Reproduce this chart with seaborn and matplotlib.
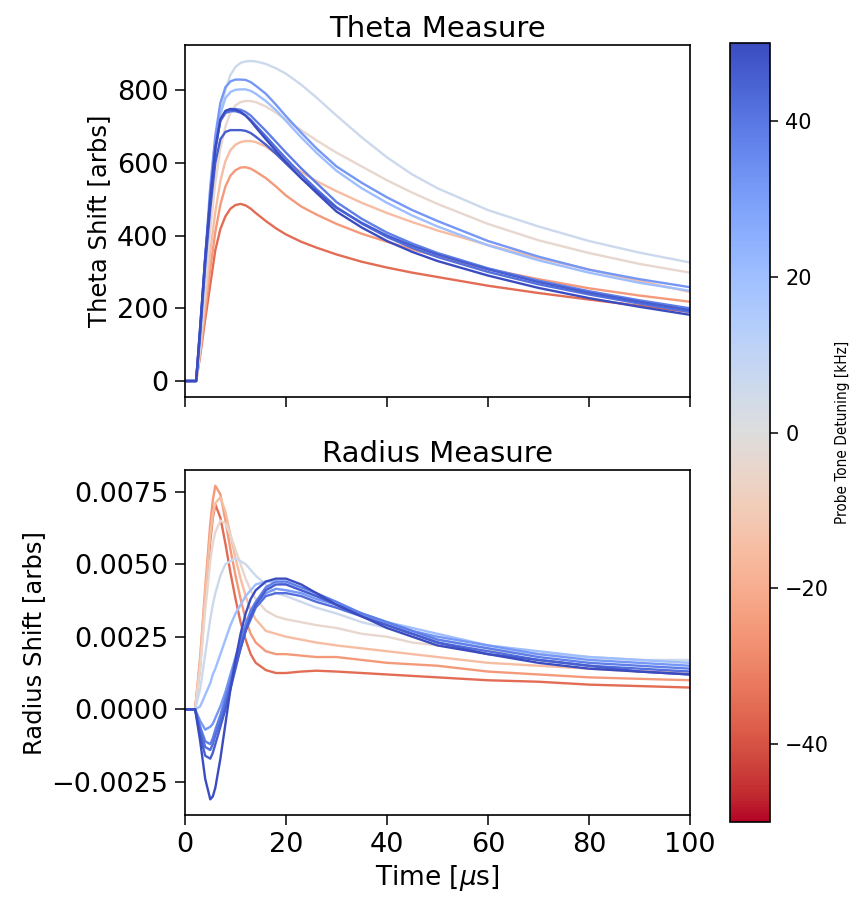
import numpy as np
import pandas as pd
import matplotlib
matplotlib.use("Agg")
import matplotlib.pyplot as plt
from matplotlib import font_manager
import seaborn as sns

# probe tone detunings [kHz], one curve each
detunings = [-35, -25, -15, -4, 6, 20, 32, 38, 42, 46, 50]

# time grid [us] for the theta panel
t_theta = [0, 2.2, 3, 4, 5, 6, 7, 8, 9, 10, 11, 12, 13, 14, 16, 18, 20, 23, 26, 30, 35, 40, 45, 50, 60, 70, 80, 90, 100]

theta_m35 = [0, 0, 70, 170, 265, 360, 418, 453, 474, 484, 487, 483, 474, 462, 440, 420, 403, 383, 367, 348, 328, 312, 298, 286, 262, 242, 224, 207, 190]
theta_m25 = [0, 0, 75, 190, 310, 410, 485, 535, 565, 580, 587, 588, 584, 576, 558, 535, 510, 480, 458, 432, 405, 383, 362, 343, 308, 280, 255, 235, 218]
theta_m15 = [0, 0, 85, 220, 355, 465, 550, 605, 635, 650, 657, 660, 660, 657, 645, 625, 603, 575, 550, 522, 490, 462, 437, 414, 374, 338, 307, 275, 245]
theta_m4 = [0, 0, 95, 255, 415, 545, 640, 700, 738, 758, 767, 770, 770, 767, 755, 738, 718, 690, 662, 628, 590, 552, 518, 487, 432, 387, 352, 322, 298]
theta_p6 = [0, 0, 100, 285, 470, 620, 730, 800, 842, 864, 875, 879, 880, 879, 872, 860, 845, 815, 780, 730, 670, 615, 568, 530, 470, 425, 385, 353, 326]
theta_p20 = [0, 0, 120, 320, 510, 650, 735, 778, 795, 801, 802, 802, 798, 790, 770, 745, 715, 670, 628, 578, 530, 490, 455, 425, 373, 332, 298, 270, 248]
theta_p32 = [0, 0, 130, 340, 535, 675, 765, 808, 824, 829, 829, 828, 822, 812, 790, 760, 728, 683, 640, 590, 545, 505, 470, 440, 385, 342, 306, 280, 258]
theta_p38 = [0, 0, 140, 335, 500, 640, 718, 742, 748, 748, 746, 740, 730, 716, 688, 658, 628, 585, 545, 492, 446, 408, 378, 352, 310, 276, 247, 222, 200]
theta_p42 = [0, 0, 145, 340, 505, 640, 715, 737, 742, 742, 738, 730, 718, 703, 673, 642, 612, 568, 528, 478, 433, 396, 366, 341, 300, 266, 238, 213, 190]
theta_p46 = [0, 0, 135, 320, 475, 600, 665, 685, 690, 690, 690, 688, 682, 672, 650, 625, 598, 558, 522, 476, 435, 400, 372, 348, 307, 272, 243, 218, 195]
theta_p50 = [0, 0, 150, 340, 500, 640, 720, 743, 748, 746, 740, 730, 715, 698, 665, 633, 602, 558, 518, 466, 422, 385, 355, 330, 290, 256, 228, 204, 182]

# time grid [us] for the radius panel
t_radius = [0, 2.0, 3, 4, 5, 5.5, 6, 7, 8, 9, 10, 11, 12, 13, 14, 16, 18, 20, 23, 26, 30, 35, 40, 45, 50, 60, 70, 80, 90, 100]

radius_m35 = [0, 0, 0.0015, 0.0038, 0.0058, 0.0066, 0.00705, 0.0066, 0.0057, 0.0047, 0.0038, 0.0030, 0.0024, 0.0019, 0.0016,
              0.00135, 0.00125, 0.00125, 0.0013, 0.00133, 0.0013, 0.00125, 0.0012, 0.00115, 0.0011, 0.0010, 0.00095, 0.00085, 0.0008, 0.00075]
radius_m25 = [0, 0, 0.0018, 0.0042, 0.0064, 0.0072, 0.0077, 0.0074, 0.0065, 0.0055, 0.0046, 0.0038, 0.0031, 0.0026, 0.0023,
              0.0020, 0.0019, 0.0019, 0.00185, 0.0018, 0.0018, 0.0017, 0.0016, 0.00155, 0.0015, 0.0013, 0.0012, 0.0011, 0.00105, 0.0010]
radius_m15 = [0, 0, 0.0017, 0.0040, 0.0060, 0.0067, 0.0071, 0.0073, 0.0068, 0.0060, 0.0052, 0.0045, 0.0039, 0.0034, 0.0031,
              0.0027, 0.0026, 0.0025, 0.0024, 0.0023, 0.0022, 0.0021, 0.0020, 0.0019, 0.0018, 0.0016, 0.0015, 0.0014, 0.0013, 0.0013]
radius_m4 = [0, 0, 0.0014, 0.0034, 0.0051, 0.0057, 0.0061, 0.0065, 0.0064, 0.0060, 0.0055, 0.0050, 0.0045, 0.0041, 0.0038,
             0.0034, 0.0032, 0.0031, 0.0030, 0.0029, 0.0028, 0.0026, 0.0025, 0.0023, 0.0022, 0.0020, 0.0019, 0.0018, 0.0017, 0.0016]
radius_p6 = [0, 0, 0.0007, 0.0019, 0.0031, 0.0036, 0.0040, 0.0046, 0.0050, 0.0051, 0.0052, 0.0051, 0.0050, 0.0048, 0.0046,
             0.0043, 0.0040, 0.0039, 0.0037, 0.0035, 0.0033, 0.0030, 0.0028, 0.0026, 0.0024, 0.0021, 0.0019, 0.0018, 0.0017, 0.0017]
radius_p20 = [0, 0, 0.0001, 0.0005, 0.0009, 0.0012, 0.0014, 0.0019, 0.0024, 0.0029, 0.0033, 0.0036, 0.0039, 0.0041, 0.0043,
              0.0044, 0.0044, 0.0043, 0.0041, 0.0039, 0.0036, 0.0033, 0.0030, 0.0028, 0.0026, 0.0022, 0.0020, 0.0018, 0.0017, 0.0016]
radius_p32 = [0, 0, -0.0004, -0.0007, -0.0006, -0.0005, -0.0003, 0.0001, 0.0006, 0.0012, 0.0018, 0.0024, 0.0029, 0.0033, 0.0036,
              0.0040, 0.00415, 0.0041, 0.0040, 0.0038, 0.0036, 0.0033, 0.0030, 0.0027, 0.0025, 0.0022, 0.0019, 0.0017, 0.0016, 0.0015]
radius_p38 = [0, 0, -0.0006, -0.0011, -0.0012, -0.0010, -0.0007, -0.0002, 0.0004, 0.0010, 0.0017, 0.0023, 0.0029, 0.0034, 0.0037,
              0.0042, 0.0044, 0.0044, 0.0042, 0.0040, 0.0037, 0.0033, 0.0030, 0.0027, 0.0024, 0.0021, 0.0018, 0.0016, 0.0015, 0.0014]
radius_p42 = [0, 0, -0.0007, -0.0013, -0.0014, -0.0012, -0.0009, -0.0004, 0.0002, 0.0008, 0.0015, 0.0021, 0.0027, 0.0031, 0.0035,
              0.0039, 0.0040, 0.0040, 0.0039, 0.0037, 0.0035, 0.0032, 0.0029, 0.0026, 0.0023, 0.0020, 0.0017, 0.0015, 0.0014, 0.0013]
radius_p46 = [0, 0, -0.0009, -0.0016, -0.0017, -0.0015, -0.0012, -0.0006, 0.0000, 0.0007, 0.0014, 0.0021, 0.0027, 0.0032, 0.0036,
              0.0041, 0.0043, 0.0043, 0.0041, 0.0039, 0.0036, 0.0032, 0.0029, 0.0026, 0.0023, 0.0019, 0.0017, 0.0015, 0.0013, 0.0012]
radius_p50 = [0, 0, -0.0011, -0.0024, -0.0031, -0.0030, -0.0027, -0.0017, -0.0005, 0.0007, 0.0017, 0.0026, 0.0033, 0.0038, 0.0041,
              0.0044, 0.0045, 0.0045, 0.0043, 0.0040, 0.0036, 0.0032, 0.0028, 0.0025, 0.0022, 0.0019, 0.0016, 0.0014, 0.0013, 0.0012]

theta_curves = [theta_m35, theta_m25, theta_m15, theta_m4, theta_p6, theta_p20,
                theta_p32, theta_p38, theta_p42, theta_p46, theta_p50]
radius_curves = [radius_m35, radius_m25, radius_m15, radius_m4, radius_p6, radius_p20,
                 radius_p32, radius_p38, radius_p42, radius_p46, radius_p50]


def long_frame(times, curves):
    rows = []
    for det, vals in zip(detunings, curves):
        for t, v in zip(times, vals):
            rows.append({'time': t, 'value': v, 'detuning': det})
    return pd.DataFrame(rows)


theta_df = long_frame(t_theta, theta_curves)
radius_df = long_frame(t_radius, radius_curves)

cmap = 'coolwarm_r'
norm = (-50, 50)

plt.rcParams['axes.linewidth'] = 1.2
plt.rcParams['xtick.major.size'] = 7
plt.rcParams['ytick.major.size'] = 7
plt.rcParams['xtick.major.width'] = 1.1
plt.rcParams['ytick.major.width'] = 1.1
plt.rcParams['xtick.major.pad'] = 5
plt.rcParams['ytick.major.pad'] = 5

fig = plt.figure(figsize=(8.59, 8.97), dpi=100)
ax_top = fig.add_axes([0.2154, 0.5574, 0.5879, 0.3924])
ax_bot = fig.add_axes([0.2154, 0.0914, 0.5879, 0.3846], sharex=ax_top)
cax = fig.add_axes([0.8498, 0.0836, 0.0466, 0.8684])

sns.lineplot(data=theta_df, x='time', y='value', hue='detuning', palette=cmap,
             hue_norm=norm, legend=False, lw=1.7, ax=ax_top)
sns.lineplot(data=radius_df, x='time', y='value', hue='detuning', palette=cmap,
             hue_norm=norm, legend=False, lw=1.7, ax=ax_bot)

ax_top.set_title('Theta Measure', fontsize=21)
ax_top.set_ylabel('Theta Shift [arbs]', fontsize=17.5)
ax_top.set_xlabel('')
ax_top.tick_params(labelbottom=False, labelsize=19.5)
ax_top.set_yticks([0, 200, 400, 600, 800])

ax_bot.set_title('Radius Measure', fontsize=21)
ax_bot.set_ylabel('Radius Shift [arbs]', fontsize=17.5)
ax_bot.set_xlabel(r'Time [$\mu$s]', fontsize=19)
ax_bot.tick_params(labelsize=19.5)
ax_bot.set_yticks([-0.0025, 0.0, 0.0025, 0.0050, 0.0075])
ax_bot.set_yticklabels(['\u22120.0025', '0.0000', '0.0025', '0.0050', '0.0075'])
ax_bot.set_xlim(0, 100)
ax_bot.set_xticks([0, 20, 40, 60, 80, 100])

sm = plt.cm.ScalarMappable(cmap=cmap, norm=plt.Normalize(*norm))
cb = fig.colorbar(sm, cax=cax)
cb.set_ticks([-40, -20, 0, 20, 40])
cb.ax.tick_params(labelsize=15, length=6)

# the colorbar label is set in a narrow face in the reference
narrow = None
for f in font_manager.fontManager.ttflist:
    if f.name == 'Liberation Sans Narrow':
        narrow = ('Liberation Sans Narrow', 'normal')
        break
    if f.name == 'DejaVu Sans' and f.stretch == 'condensed':
        narrow = ('DejaVu Sans', 'condensed')
if narrow is not None:
    cb.set_label('Probe Tone Detuning [kHz]', fontsize=11, family=narrow[0], fontstretch=narrow[1])
else:
    cb.set_label('Probe Tone Detuning [kHz]', fontsize=10)

fig.savefig('out.png', dpi=100)
